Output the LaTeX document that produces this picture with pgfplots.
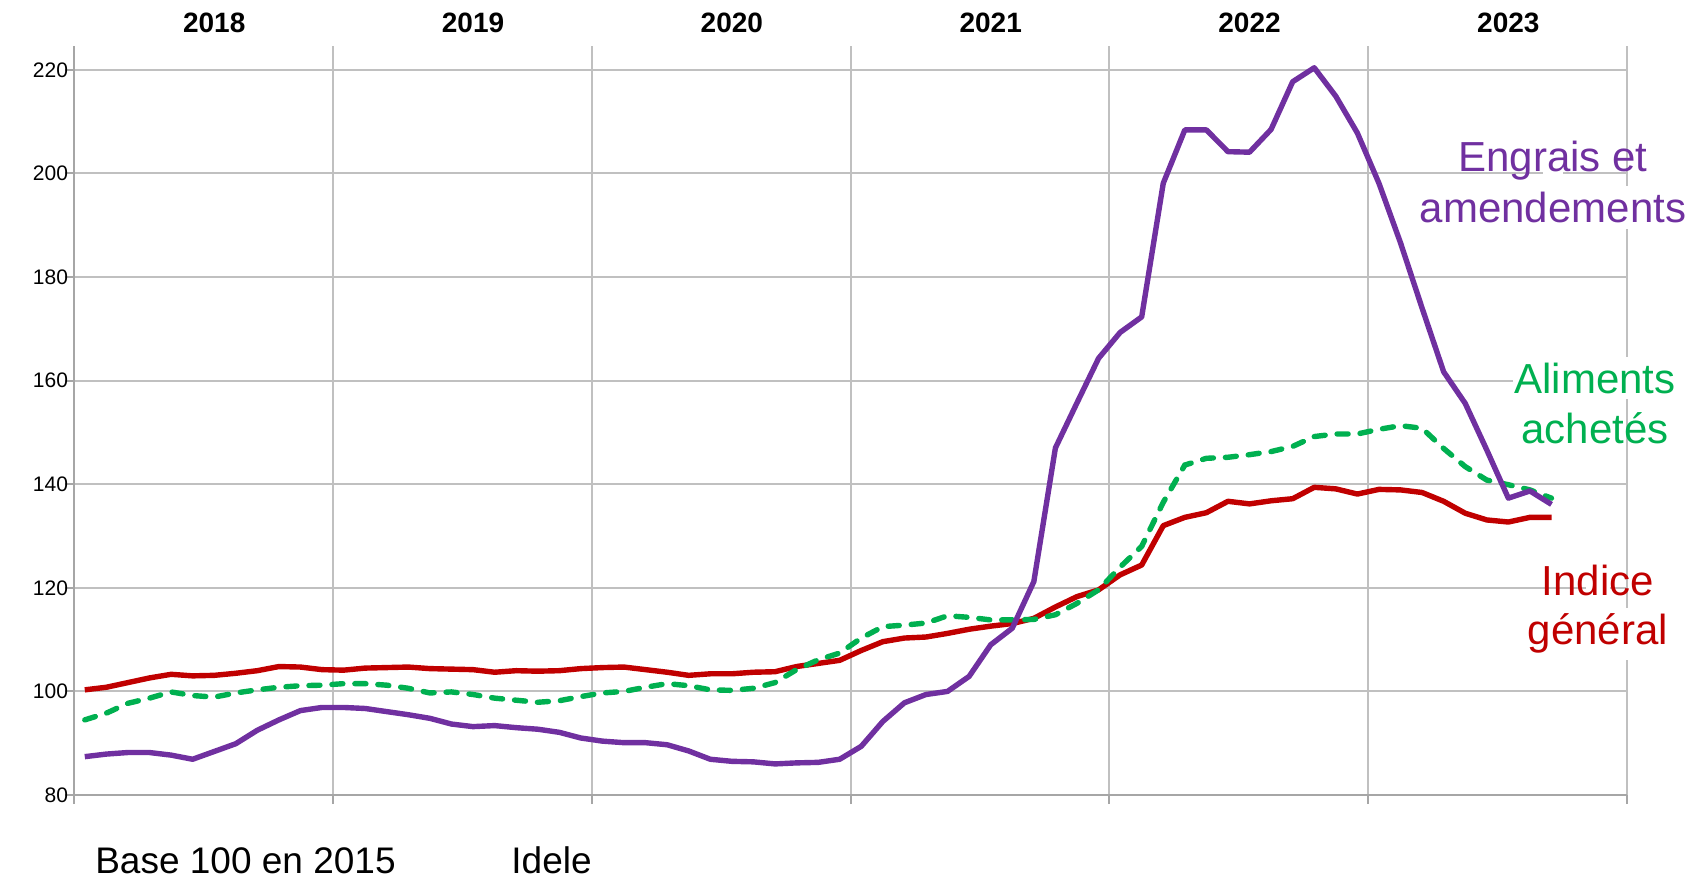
\documentclass[border=0pt]{standalone}
\usepackage{fontspec}
\setmainfont{Liberation Sans}
\usepackage{pgfplots}
\usepackage{pgfplotstable}
\pgfplotsset{compat=1.18}
\definecolor{cpurple}{HTML}{7030A0}
\definecolor{cgreen}{HTML}{00B050}
\definecolor{cred}{HTML}{C00000}
\definecolor{gridgray}{HTML}{C0C0C0}
\definecolor{axisgray}{HTML}{A6A6A6}
\newcommand{\lblfont}{\fontsize{21bp}{25bp}\selectfont}
\newlength\lwA \newlength\lwB \newlength\lwC
\pgfplotstableread{
idx red green purple
0 100.3 94.5 87.4
1 100.8 95.8 87.9
2 101.7 97.7 88.2
3 102.6 98.7 88.2
4 103.3 99.9 87.7
5 103.0 99.2 86.9
6 103.1 98.9 88.4
7 103.5 99.7 89.9
8 104.0 100.3 92.5
9 104.8 100.8 94.5
10 104.7 101.1 96.3
11 104.2 101.2 96.9
12 104.1 101.5 96.9
13 104.5 101.5 96.7
14 104.6 101.2 96.1
15 104.7 100.6 95.5
16 104.4 99.7 94.8
17 104.3 99.9 93.7
18 104.2 99.4 93.2
19 103.7 98.7 93.4
20 104.0 98.3 93.0
21 103.9 97.9 92.7
22 104.0 98.2 92.1
23 104.4 99.0 91.0
24 104.6 99.7 90.4
25 104.7 100.0 90.1
26 104.2 100.8 90.1
27 103.7 101.5 89.7
28 103.1 101.1 88.5
29 103.4 100.3 86.9
30 103.4 100.2 86.5
31 103.7 100.6 86.4
32 103.8 101.7 86.0
33 104.8 104.2 86.2
34 105.4 106.1 86.3
35 106.0 107.4 86.9
36 107.9 110.3 89.4
37 109.6 112.5 94.2
38 110.3 112.8 97.8
39 110.5 113.2 99.4
40 111.2 114.6 100.0
41 112.0 114.3 102.9
42 112.6 113.8 109.0
43 113.1 113.8 112.2
44 114.1 113.9 121.2
45 116.3 114.8 147.0
46 118.3 117.0 155.7
47 119.6 119.6 164.3
48 122.5 124.0 169.3
49 124.4 128.0 172.3
50 132.0 136.5 198.1
51 133.6 143.7 208.4
52 134.5 145.0 208.4
53 136.7 145.2 204.2
54 136.2 145.7 204.1
55 136.8 146.3 208.5
56 137.2 147.3 217.7
57 139.4 149.2 220.4
58 139.1 149.7 214.9
59 138.1 149.7 207.8
60 139.0 150.6 198.1
61 138.9 151.3 186.6
62 138.4 150.8 174.0
63 136.7 146.9 161.7
64 134.4 143.4 155.6
65 133.1 140.8 146.6
66 132.7 139.9 137.3
67 133.6 138.9 138.7
68 133.6 137.3 136.1
}\datatable
\begin{document}
\begin{tikzpicture}
\settowidth\lwA{\lblfont amendements}
\settowidth\lwB{\lblfont Aliments}
\settowidth\lwC{\lblfont général}
\useasboundingbox (-37bp,-43.5bp) rectangle (816bp,397.5bp);
\begin{axis}[
  at={(0,0)}, anchor=south west,
  scale only axis, width=776.5bp, height=374.5bp,
  xmin=-0.5, xmax=71.5, ymin=80, ymax=224.6,
  axis lines=left,
  axis line style={-, draw=axisgray, line width=1bp},
  xtick={-0.5,11.5,...,71.5}, xticklabels={},
  ytick={80,100,...,220},
  grid=major,
  major grid style={draw=gridgray, line width=1bp},
  tick align=outside, major tick length=4.5bp,
  tick style={draw=axisgray, line width=1bp},
  yticklabel style={font=\fontsize{10.5bp}{12bp}\selectfont, xshift=5bp},
  /pgf/number format/assume math mode=true,
  clip=false,
]
\addplot[cred, line width=2.7bp, line join=round] table[x=idx, y=red] {\datatable};
\addplot[cgreen, line width=2.7bp, line cap=round, dash pattern=on 5.5bp off 6bp] table[x=idx, y=green] {\datatable};
\addplot[cpurple, line width=2.7bp, line join=round] table[x=idx, y=purple] {\datatable};

\foreach \yr [count=\i from 0] in {2018,2019,2020,2021,2022,2023} {
  \edef\temp{\noexpand\node[anchor=base, font=\noexpand\fontsize{14bp}{16bp}\noexpand\selectfont\noexpand\bfseries] at (axis cs:{6+12*\i},227.3) {\yr};}
  \temp
}
\begin{scope}[every node/.style={anchor=base, fill=white, inner ysep=3bp, font=\lblfont}]
\node[text=cpurple, inner xsep=5bp] at (axis cs:68.07,190.6) {amendements};
\node[text=cpurple, inner xsep=5bp] at (axis cs:68.07,200.3) {\makebox[\lwA][c]{Engrais et}};
\node[text=cgreen, inner xsep=1bp] at (axis cs:70.02,147.95) {\makebox[\lwB][c]{achetés}};
\node[text=cgreen, inner xsep=1bp] at (axis cs:70.02,157.6) {Aliments};
\node[text=cred, inner xsep=6bp] at (axis cs:70.15,108.96) {général};
\node[text=cred, inner xsep=6bp] at (axis cs:70.15,118.6) {\makebox[\lwC][c]{Indice}};
\end{scope}
\node[anchor=base west, inner sep=0pt, font=\fontsize{18.5bp}{22bp}\selectfont] at (axis cs:0.47,64.9) {Base 100 en 2015};
\node[anchor=base west, inner sep=0pt, font=\fontsize{18.5bp}{22bp}\selectfont] at (axis cs:19.76,64.9) {Idele};
\end{axis}
\end{tikzpicture}
\end{document}
